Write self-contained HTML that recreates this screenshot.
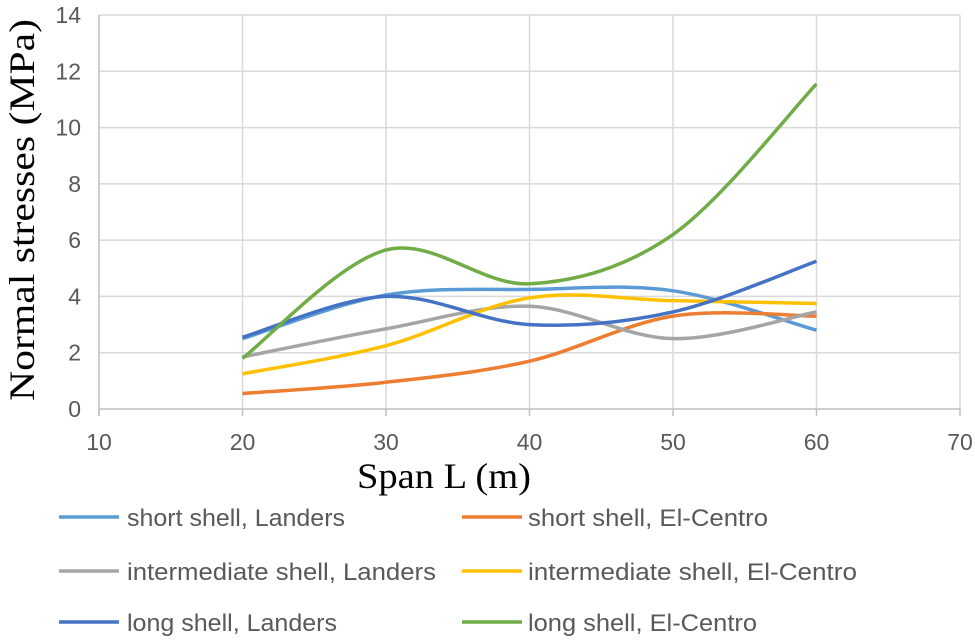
<!DOCTYPE html>
<html><head><meta charset="utf-8"><style>body{margin:0;background:#fff}svg{display:block}</style></head>
<body>
<svg id="chart" width="975" height="640" viewBox="0 0 975 640" xmlns="http://www.w3.org/2000/svg">
<g id="grid"></g>
<g id="axes"></g>
<g id="series"></g>
<text x="0" y="0" transform="translate(34,210) rotate(-90)" text-anchor="middle" font-family="Liberation Serif, serif" font-size="36" fill="#000" textLength="382" lengthAdjust="spacingAndGlyphs">Normal stresses (MPa)</text>
<text x="444" y="488" text-anchor="middle" font-family="Liberation Serif, serif" font-size="36" fill="#000" textLength="174" lengthAdjust="spacingAndGlyphs">Span L (m)</text>
<g id="legend"></g>
</svg>
<script>
const xCats = [20, 30, 40, 50, 60];
const xTicks = [10, 20, 30, 40, 50, 60, 70];
const yTicks = [0, 2, 4, 6, 8, 10, 12, 14];
const seriesNames = ["short shell, Landers","short shell, El-Centro","intermediate shell, Landers","intermediate shell, El-Centro","long shell, Landers","long shell, El-Centro"];
const shortLanders = [2.5, 4.05, 4.25, 4.2, 2.8];
const shortElCentro = [0.55, 0.95, 1.7, 3.3, 3.3];
const interLanders = [1.85, 2.85, 3.65, 2.5, 3.45];
const interElCentro = [1.25, 2.25, 3.95, 3.85, 3.75];
const longLanders = [2.55, 4.0, 3.0, 3.45, 5.25];
const longElCentro = [1.8, 5.65, 4.45, 6.2, 11.55];
const seriesValues = [shortLanders, shortElCentro, interLanders, interElCentro, longLanders, longElCentro];
const colors = ["#5B9BD5","#ED7D31","#A5A5A5","#FFC000","#4472C4","#70AD47"];
const NS="http://www.w3.org/2000/svg";
const X = v => 99 + (v-10)*(960-99)/60;
const Y = v => 409 - v*(409-15)/14;
function mk(tag, attrs, parent){const e=document.createElementNS(NS,tag);for(const k in attrs)e.setAttribute(k,attrs[k]);parent.appendChild(e);return e;}
const grid=document.getElementById('grid'), axes=document.getElementById('axes'), ser=document.getElementById('series'), leg=document.getElementById('legend');
yTicks.forEach(t=>{
  if(t>0){const l=mk('line',{x1:99,x2:960,y1:Y(t),y2:Y(t),stroke:'#d9d9d9','stroke-width':1.5},grid);
  
  }
  const tx=mk('text',{x:81,y:Y(t)+8,'text-anchor':'end','font-family':'Liberation Sans, sans-serif','font-size':23,fill:'#595959'},axes);
  tx.textContent=t;
  
  
});
xTicks.forEach(t=>{
  if(t>10){const l=mk('line',{x1:X(t),x2:X(t),y1:15,y2:409,stroke:'#d9d9d9','stroke-width':1.5},grid);
  
  }
  const tk=mk('line',{x1:X(t),x2:X(t),y1:409,y2:416,stroke:'#bfbfbf','stroke-width':1.5},axes);
  
  
  const tx=mk('text',{x:X(t),y:450,'text-anchor':'middle','font-family':'Liberation Sans, sans-serif','font-size':23,fill:'#595959'},axes);
  tx.textContent=t;
  
  
});
const ax1=mk('line',{x1:99,x2:960,y1:409,y2:409,stroke:'#bfbfbf','stroke-width':1.5},axes);


const ax2=mk('line',{x1:99,x2:99,y1:15,y2:416,stroke:'#bfbfbf','stroke-width':1.5},axes);


function smooth(pts){
  let d=`M${pts[0][0]},${pts[0][1]}`;
  for(let i=0;i<pts.length-1;i++){
    const p0=pts[Math.max(0,i-1)],p1=pts[i],p2=pts[i+1],p3=pts[Math.min(pts.length-1,i+2)];
    const c1=[p1[0]+(p2[0]-p0[0])/6,p1[1]+(p2[1]-p0[1])/6];
    const c2=[p2[0]-(p3[0]-p1[0])/6,p2[1]-(p3[1]-p1[1])/6];
    d+=` C${c1[0]},${c1[1]} ${c2[0]},${c2[1]} ${p2[0]},${p2[1]}`;
  }
  return d;
}
[0,1,2,3,4,5].forEach(s=>{
  const pts=xCats.map((x,i)=>[X(x),Y(seriesValues[s][i])]);
  const p=mk('path',{d:smooth(pts),fill:'none',stroke:colors[s],'stroke-width':3.5},ser);
  
  
});
const legX=[[59,127],[462,528]], legY=[517,571,622];
const legW=[218,240,309,329,210,229];
seriesNames.forEach((n,i)=>{
  const c=i%2, r=Math.floor(i/2);
  const l=mk('line',{x1:legX[c][0],x2:legX[c][0]+60,y1:legY[r],y2:legY[r],stroke:colors[i],'stroke-width':3.5},leg);
  
  
  const t=mk('text',{x:legX[c][1],y:legY[r]+9,'font-family':'Liberation Sans, sans-serif','font-size':24,fill:'#595959',textLength:legW[i],lengthAdjust:'spacingAndGlyphs'},leg);
  t.textContent=n;
  
  
});
</script>
</body></html>
